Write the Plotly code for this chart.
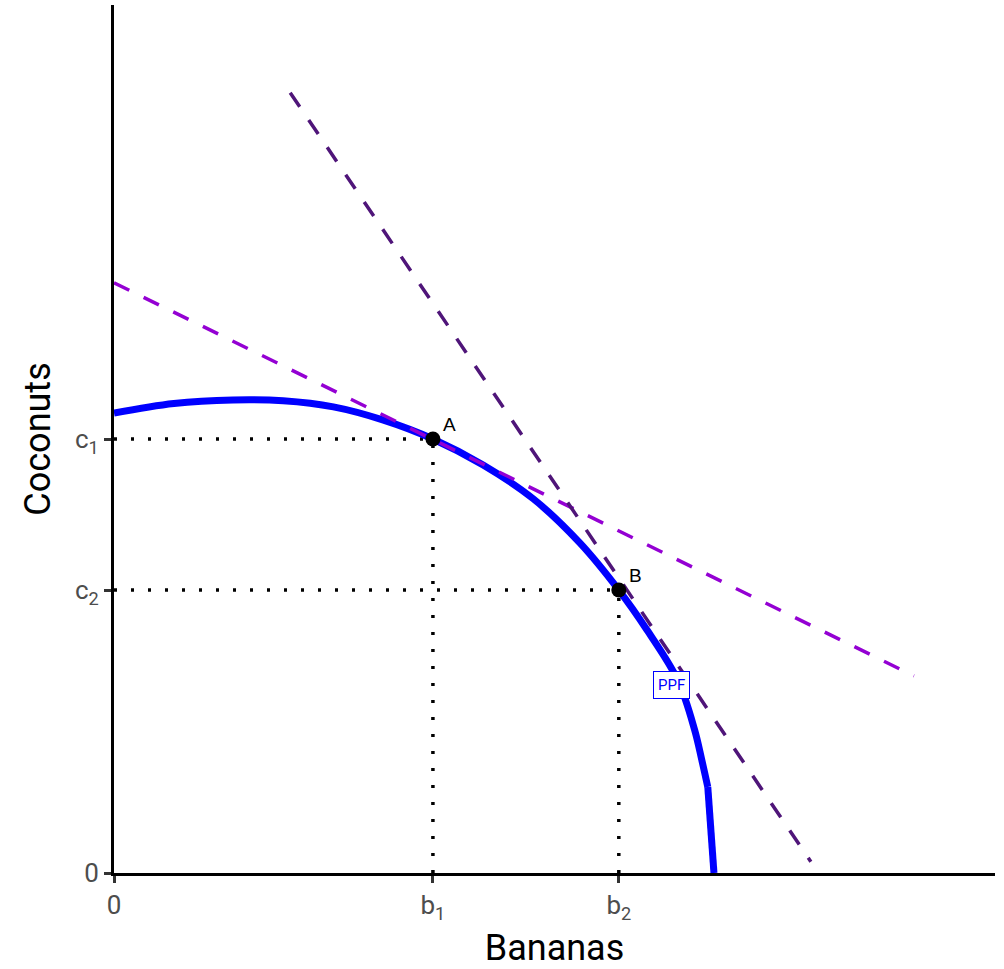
import plotly.graph_objects as go

# PPF curve (bananas, coconuts)
ppf_x = [0.0, 0.68, 1.35, 1.92, 2.49, 3.05, 3.62, 4.19, 4.76, 5.29, 5.73, 6.05, 6.40, 6.59, 6.67, 6.74, 6.81]
ppf_y = [5.30, 5.41, 5.45, 5.44, 5.37, 5.22, 5.00, 4.70, 4.31, 3.80, 3.26, 2.80, 2.22, 1.65, 1.31, 0.99, 0.0]

# tangent lines
tan1_x = [0.0, 9.08]
tan1_y = [6.80, 2.27]
tan2_x = [2.0, 7.91]
tan2_y = [8.99, 0.13]

# points
pt_labels = ["A", "B"]
pt_x = [3.62, 5.73]
pt_y = [5.00, 3.26]

x_tickvals = [0, 3.62, 5.73]
x_ticktext = ["0", "b<sub>1</sub>", "b<sub>2</sub>"]
y_tickvals = [0, 3.26, 5.00]
y_ticktext = ["0", "c<sub>2</sub>", "c<sub>1</sub>"]

ppf_label = "PPF"
ppf_label_pos = (6.33, 2.17)

FONT = "Liberation Sans Narrow, Roboto, sans-serif"

fig = go.Figure()

# dotted guides
for x, y in zip(pt_x, pt_y):
    fig.add_trace(go.Scatter(x=[0, x], y=[y, y], mode="lines",
                             line=dict(color="black", width=3.5, dash="3px,14px"),
                             hoverinfo="skip", showlegend=False))
    fig.add_trace(go.Scatter(x=[x, x], y=[0, y], mode="lines",
                             line=dict(color="black", width=3.5, dash="3px,14px"),
                             hoverinfo="skip", showlegend=False))

# PPF: smooth upper part, straight last segment (as in reference)
fig.add_trace(go.Scatter(x=ppf_x[:-1], y=ppf_y[:-1], mode="lines",
                         line=dict(color="#0000FF", width=7, shape="spline", smoothing=1.0),
                         showlegend=False))
fig.add_trace(go.Scatter(x=ppf_x[-2:], y=ppf_y[-2:], mode="lines",
                         line=dict(color="#0000FF", width=7),
                         showlegend=False))
fig.add_trace(go.Scatter(x=tan1_x, y=tan1_y, mode="lines",
                         line=dict(color="#9400D3", width=3.5, dash="17px,16px"),
                         showlegend=False))
fig.add_trace(go.Scatter(x=tan2_x, y=tan2_y, mode="lines",
                         line=dict(color="#4F1579", width=3.5, dash="17px,16px"),
                         showlegend=False))
fig.add_trace(go.Scatter(x=pt_x, y=pt_y, mode="markers",
                         marker=dict(color="black", size=15),
                         showlegend=False))

for lab, x, y in zip(pt_labels, pt_x, pt_y):
    fig.add_annotation(x=x, y=y, text=lab, showarrow=False,
                       xshift=17, yshift=15,
                       font=dict(family="Liberation Sans, Arial, sans-serif", size=19, color="black"))

fig.add_annotation(x=ppf_label_pos[0], y=ppf_label_pos[1], text=ppf_label, showarrow=False,
                   font=dict(family=FONT, size=15, color="#0000FF"),
                   bgcolor="white", bordercolor="#0000FF", borderwidth=1, borderpad=4)

fig.update_layout(
    width=1004, height=969,
    margin=dict(l=114, r=9, t=5, b=96, autoexpand=False),
    plot_bgcolor="white", paper_bgcolor="white",
    font=dict(family=FONT),
)
fig.update_xaxes(range=[0, 10], showgrid=False, zeroline=False, automargin=False,
                 showline=True, linecolor="black", linewidth=3,
                 ticks="outside", ticklen=7, tickwidth=3, tickcolor="#333333",
                 tickvals=x_tickvals, ticktext=x_ticktext,
                 tickfont=dict(size=26, color="#4d4d4d", family=FONT),
                 title=dict(text="Bananas", font=dict(size=36, color="black", family=FONT), standoff=16))
fig.update_yaxes(range=[0, 10], showgrid=False, zeroline=False, automargin=False,
                 showline=True, linecolor="black", linewidth=3,
                 ticks="outside", ticklen=7, tickwidth=3, tickcolor="#333333",
                 tickvals=y_tickvals, ticktext=y_ticktext,
                 tickfont=dict(size=26, color="#4d4d4d", family=FONT),
                 title=dict(text="Coconuts", font=dict(size=36, color="black", family=FONT), standoff=14))

fig.write_html("out.html", config={"displayModeBar": False},
               post_script="document.body.style.margin='0';document.body.style.overflow='hidden';")
